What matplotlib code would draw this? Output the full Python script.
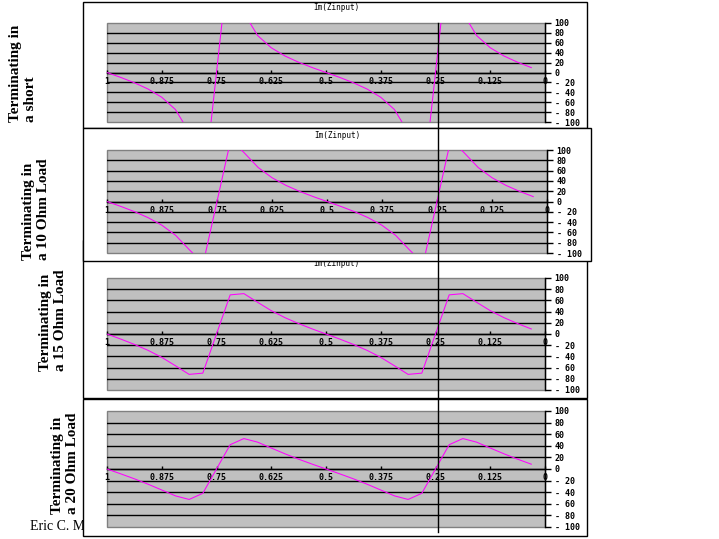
import matplotlib
matplotlib.use("Agg")
import matplotlib.pyplot as plt
from matplotlib.patches import Rectangle
from matplotlib.lines import Line2D

W, H = 719, 539

# ---- data (wavelengths toward generator, Im(Zinput) in ohms) ----
x_pos = [1, 0.96875, 0.9375, 0.90625, 0.875, 0.84375, 0.8125, 0.78125,
         0.75, 0.71875, 0.6875, 0.65625, 0.625, 0.59375, 0.5625, 0.53125,
         0.5, 0.46875, 0.4375, 0.40625, 0.375, 0.34375, 0.3125, 0.28125,
         0.25, 0.21875, 0.1875, 0.15625, 0.125, 0.09375, 0.0625, 0.03125]

im_short = [0, -9.9, -20.7, -33.4, -50.0, -74.8, -120.7, -251.4,
            0, 251.4, 120.7, 74.8, 50.0, 33.4, 20.7, 9.9,
            0, -9.9, -20.7, -33.4, -50.0, -74.8, -120.7, -251.4,
            0, 251.4, 120.7, 74.8, 50.0, 33.4, 20.7, 9.9]
im_10 = [0, -9.5, -19.7, -31.5, -46.2, -65.9, -94.0, -120.0,
         0, 120.0, 94.0, 65.9, 46.2, 31.5, 19.7, 9.5,
         0, -9.5, -19.7, -31.5, -46.2, -65.9, -94.0, -120.0,
         0, 120.0, 94.0, 65.9, 46.2, 31.5, 19.7, 9.5]
im_15 = [0, -9.0, -18.6, -29.2, -41.7, -56.7, -72.1, -69.9,
         0, 69.9, 72.1, 56.7, 41.7, 29.2, 18.6, 9.0,
         0, -9.0, -18.6, -29.2, -41.7, -56.7, -72.1, -69.9,
         0, 69.9, 72.1, 56.7, 41.7, 29.2, 18.6, 9.0]
im_20 = [0, -8.3, -16.9, -26.2, -36.2, -46.3, -52.5, -41.9,
         0, 41.9, 52.5, 46.3, 36.2, 26.2, 16.9, 8.3,
         0, -8.3, -16.9, -26.2, -36.2, -46.3, -52.5, -41.9,
         0, 41.9, 52.5, 46.3, 36.2, 26.2, 16.9, 8.3]

x_ticks = [1, 0.875, 0.75, 0.625, 0.5, 0.375, 0.25, 0.125, 0]
x_tick_labels = ["1", "0.875", "0.75", "0.625", "0.5", "0.375", "0.25", "0.125", "0"]
y_ticks = [100, 80, 60, 40, 20, 0, -20, -40, -60, -80, -100]
y_tick_labels = ["100", "80", "60", "40", "20", "0", "- 20", "- 40", "- 60", "- 80", "- 100"]

label_short = "Terminating in\na short"
label_10 = "Terminating in\na 10 Ohm Load"
label_15 = "Terminating in\na 15 Ohm Load"
label_20 = "Terminating in\na 20 Ohm Load"
title_text = "Im(Zinput)"

# ---- layout (pixels), listed in drawing order ----
panels = [
    dict(series=im_short, text=label_short, box=(83, 2, 587, 128),
         plot=(107, 23, 545, 122), title=(336, 8), label=(23, 122), z=1),
    dict(series=im_15, text=label_15, box=(83, 240, 587, 398),
         plot=(107, 278, 545, 390), title=(336, 263), label=(53, 371), z=3),
    dict(series=im_10, text=label_10, box=(83, 128, 591, 261),
         plot=(107, 150, 547, 253), title=(337, 135), label=(36, 260), z=5),
    dict(series=im_20, text=label_20, box=(83, 399, 587, 536),
         plot=(107, 411, 545, 527), title=None, label=(65, 514), z=7),
]


def fr(x0, y0, x1, y1):
    return [x0 / W, 1 - y1 / H, (x1 - x0) / W, (y1 - y0) / H]


fig = plt.figure(figsize=(W / 100, H / 100), dpi=100)
fig.patch.set_facecolor("white")

mono = "DejaVu Sans Mono"

# author text partially hidden behind the last panel
fig.text(30 / W, 1 - 527 / H, "Eric C. M", family="Liberation Serif",
         fontsize=10, va="center", ha="left", zorder=0.5)

for p in panels:
    bx0, by0, bx1, by1 = p["box"]
    fig.patches.append(Rectangle((bx0 / W, 1 - by1 / H), (bx1 - bx0) / W, (by1 - by0) / H,
                                 transform=fig.transFigure, facecolor="white",
                                 edgecolor="black", linewidth=1.0, zorder=p["z"]))
    ax = fig.add_axes(fr(*p["plot"]))
    ax.set_zorder(p["z"] + 0.5)
    ax.set_facecolor("#c0c0c0")
    ax.patch.set_edgecolor("#808080")
    ax.patch.set_linewidth(1.0)
    ax.plot(x_pos, p["series"], color="#ff00ff", lw=0.75, zorder=3)
    ax.set_xlim(1, 0)
    ax.set_ylim(-100, 100)

    ax.spines["left"].set_visible(False)
    ax.spines["top"].set_visible(False)
    ax.spines["right"].set_color("black")
    ax.spines["right"].set_linewidth(1.0)
    ax.spines["bottom"].set_position(("data", 0))
    ax.spines["bottom"].set_color("black")
    ax.spines["bottom"].set_linewidth(1.0)

    ax.set_xticks(x_ticks)
    ax.set_xticklabels(x_tick_labels, family=mono, fontweight="bold", fontsize=6)
    ax.tick_params(axis="x", direction="in", length=2.5, width=1, pad=3, colors="black")

    ax.yaxis.tick_right()
    ax.set_yticks(y_ticks)
    ax.set_yticklabels(y_tick_labels, family=mono, fontweight="bold", fontsize=6)
    ax.tick_params(axis="y", direction="out", length=4, width=1, pad=3)

    ax.yaxis.grid(True, color="black", linewidth=1.0)
    gl = ax.get_ygridlines()
    gl[0].set_visible(False)
    gl[-1].set_visible(False)
    ax.set_axisbelow(True)

    if p["title"] is not None:
        tx, ty = p["title"]
        fig.text(tx / W, 1 - ty / H, title_text, family=mono, fontsize=5.5,
                 ha="center", va="center", zorder=p["z"] + 0.6)

    lx, ly = p["label"]
    fig.text(lx / W, 1 - ly / H, p["text"],
             family="Liberation Serif", fontweight="bold", fontsize=11,
             rotation=90, ha="center", va="bottom", multialignment="left",
             linespacing=1.25, zorder=20)

# vertical marker line across all panels
fig.lines.append(Line2D([438 / W, 438 / W], [1 - 23 / H, 1 - 532 / H],
                        transform=fig.transFigure, color="black", lw=1.0, zorder=30))

fig.savefig("out.png", dpi=100)
